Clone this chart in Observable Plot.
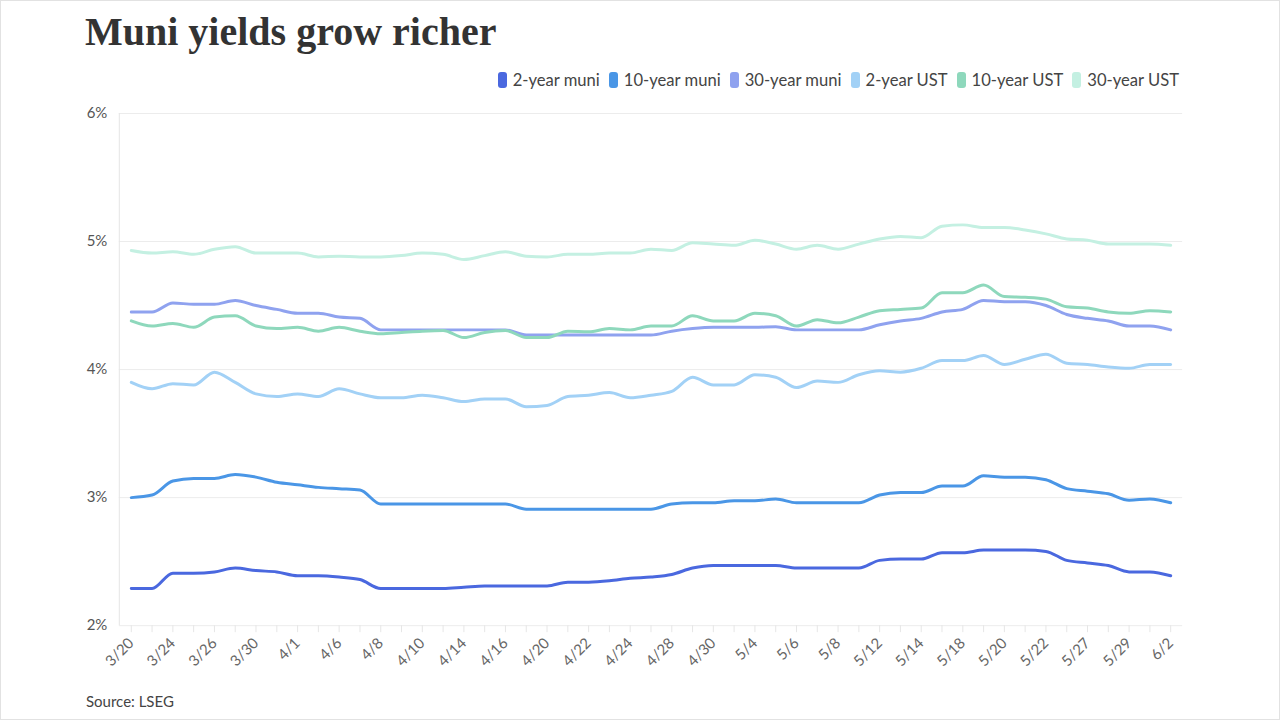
<!DOCTYPE html>
<html>
<head>
<meta charset="utf-8">
<script src="https://cdn.jsdelivr.net/npm/d3@7"></script>
<script src="https://cdn.jsdelivr.net/npm/@observablehq/plot@0.6"></script>
<style>
  html, body { margin: 0; padding: 0; background: #fff; }
  #card { position: relative; width: 1280px; height: 720px; box-sizing: border-box; border: 1px solid #e2e2e2; overflow: hidden; font-family: Lato, "Noto Sans", sans-serif; }
  #title { position: absolute; left: 84px; top: 11px; font-family: "Liberation Serif", "DejaVu Serif", serif; font-weight: bold; font-size: 40px; line-height: 40px; color: #333; white-space: nowrap; }
  #legend { position: absolute; right: 100px; top: 69px; display: flex; gap: 9px; font-size: 16.6px; line-height: 20px; color: #444; white-space: nowrap; }
  #legend .item { display: flex; align-items: center; gap: 6px; }
  #legend .sw { width: 9px; height: 16px; border-radius: 3px; display: inline-block; }
  #chart { position: absolute; left: 0; top: 95px; }
  #source { position: absolute; left: 85px; top: 690px; font-size: 15px; line-height: 20px; color: #444; }
</style>
</head>
<body>
<div id="card">
  <div id="title">Muni yields grow richer</div>
  <div id="legend"></div>
  <div id="chart"></div>
  <div id="source">Source: LSEG</div>
</div>
<script>
const dates = ["3/20","3/21","3/24","3/25","3/26","3/27","3/30","3/31","4/1","4/3","4/6","4/7","4/8","4/9","4/10","4/11","4/14","4/15","4/16","4/17","4/20","4/21","4/22","4/23","4/24","4/25","4/28","4/29","4/30","5/1","5/4","5/5","5/6","5/7","5/8","5/11","5/12","5/13","5/14","5/15","5/18","5/19","5/20","5/21","5/22","5/26","5/27","5/28","5/29","6/1","6/2"];
const xTickLabels = ["3/20","3/24","3/26","3/30","4/1","4/6","4/8","4/10","4/14","4/16","4/20","4/22","4/24","4/28","4/30","5/4","5/6","5/8","5/12","5/14","5/18","5/20","5/22","5/27","5/29","6/2"];
const yTicks = [2, 3, 4, 5, 6];

const muni2 = [2.29,2.29,2.41,2.41,2.42,2.45,2.43,2.42,2.39,2.39,2.38,2.36,2.29,2.29,2.29,2.29,2.30,2.31,2.31,2.31,2.31,2.34,2.34,2.35,2.37,2.38,2.40,2.45,2.47,2.47,2.47,2.47,2.45,2.45,2.45,2.45,2.51,2.52,2.52,2.57,2.57,2.59,2.59,2.59,2.58,2.51,2.49,2.47,2.42,2.42,2.39];
const muni10 = [3.00,3.02,3.13,3.15,3.15,3.18,3.16,3.12,3.10,3.08,3.07,3.06,2.95,2.95,2.95,2.95,2.95,2.95,2.95,2.91,2.91,2.91,2.91,2.91,2.91,2.91,2.95,2.96,2.96,2.975,2.975,2.99,2.96,2.96,2.96,2.96,3.02,3.04,3.04,3.09,3.09,3.17,3.16,3.16,3.14,3.07,3.05,3.03,2.98,2.99,2.96];
const muni30 = [4.45,4.45,4.52,4.51,4.51,4.54,4.50,4.47,4.44,4.44,4.41,4.40,4.31,4.31,4.31,4.31,4.31,4.31,4.31,4.27,4.27,4.27,4.27,4.27,4.27,4.27,4.30,4.32,4.33,4.33,4.33,4.335,4.31,4.31,4.31,4.31,4.35,4.38,4.40,4.45,4.47,4.54,4.53,4.53,4.50,4.43,4.40,4.38,4.34,4.34,4.31];
const ust2 = [3.90,3.85,3.89,3.88,3.98,3.90,3.81,3.79,3.81,3.79,3.85,3.81,3.78,3.78,3.80,3.78,3.75,3.77,3.77,3.71,3.72,3.79,3.80,3.82,3.78,3.80,3.83,3.94,3.88,3.88,3.96,3.94,3.86,3.91,3.90,3.96,3.99,3.98,4.01,4.07,4.07,4.11,4.04,4.08,4.12,4.05,4.04,4.02,4.01,4.04,4.04];
const ust10 = [4.38,4.34,4.36,4.33,4.41,4.42,4.34,4.32,4.33,4.30,4.33,4.30,4.28,4.29,4.30,4.305,4.25,4.29,4.305,4.25,4.25,4.30,4.295,4.32,4.31,4.34,4.34,4.42,4.38,4.38,4.44,4.42,4.34,4.39,4.365,4.41,4.46,4.47,4.48,4.60,4.60,4.66,4.57,4.565,4.55,4.49,4.48,4.45,4.44,4.46,4.45];
const ust30 = [4.93,4.91,4.92,4.90,4.94,4.96,4.91,4.91,4.91,4.88,4.885,4.88,4.88,4.89,4.91,4.90,4.86,4.89,4.92,4.885,4.88,4.90,4.90,4.91,4.91,4.94,4.93,4.99,4.98,4.97,5.01,4.98,4.94,4.97,4.94,4.98,5.02,5.04,5.03,5.12,5.13,5.11,5.11,5.09,5.06,5.02,5.01,4.98,4.98,4.98,4.97];

const seriesNames = ["2-year muni","10-year muni","30-year muni","2-year UST","10-year UST","30-year UST"];
const seriesValues = [muni2, muni10, muni30, ust2, ust10, ust30];
const seriesColors = ["#4a68df","#4a96e6","#8fa2ef","#a2d1f6","#8ed8bc","#c4f0e2"];

// legend
const legend = document.getElementById("legend");
seriesNames.forEach((name, k) => {
  const item = document.createElement("div");
  item.className = "item";
  const sw = document.createElement("span");
  sw.className = "sw";
  sw.style.background = seriesColors[k];
  const label = document.createElement("span");
  label.textContent = name;
  item.appendChild(sw);
  item.appendChild(label);
  legend.appendChild(item);
});

const rows = [];
seriesNames.forEach((name, k) => {
  seriesValues[k].forEach((v, i) => rows.push({date: dates[i], series: name, value: v}));
});

const labelSet = new Set(xTickLabels);

const leftLine = (index, scales, values, dims) => {
  const l = document.createElementNS("http://www.w3.org/2000/svg", "line");
  l.setAttribute("x1", dims.marginLeft + 0.5);
  l.setAttribute("x2", dims.marginLeft + 0.5);
  l.setAttribute("y1", dims.marginTop);
  l.setAttribute("y2", dims.height - dims.marginBottom);
  l.setAttribute("stroke", "#e6e6e6");
  return l;
};

const chart = Plot.plot({
  width: 1280,
  height: 580,
  marginTop: 17,
  marginBottom: 50,
  marginLeft: 118,
  marginRight: 97,
  style: {fontFamily: "Lato, 'Noto Sans', sans-serif", fontSize: "14px", color: "#666", background: "transparent"},
  x: {type: "point", domain: dates, padding: 0.576},
  y: {domain: [2, 6]},
  color: {domain: seriesNames, range: seriesColors},
  marks: [
    Plot.gridY(yTicks, {stroke: "#ececec", strokeOpacity: 1}),
    leftLine,
    Plot.axisY(yTicks, {tickSize: 0, tickPadding: 12, tickFormat: d => d + "%", label: null, fontSize: 15, fill: "#555"}),
    Plot.axisX(dates, {tickSize: 7, tickPadding: 8, stroke: "#e6e6e6", tickRotate: -45, tickFormat: d => labelSet.has(d) ? d : "", label: null, fontSize: 15, fill: "#666"}),
    Plot.line(rows, {x: "date", y: "value", z: "series", stroke: "series", strokeWidth: 3, curve: "monotone-x"})
  ]
});
document.getElementById("chart").appendChild(chart);
</script>
</body>
</html>
